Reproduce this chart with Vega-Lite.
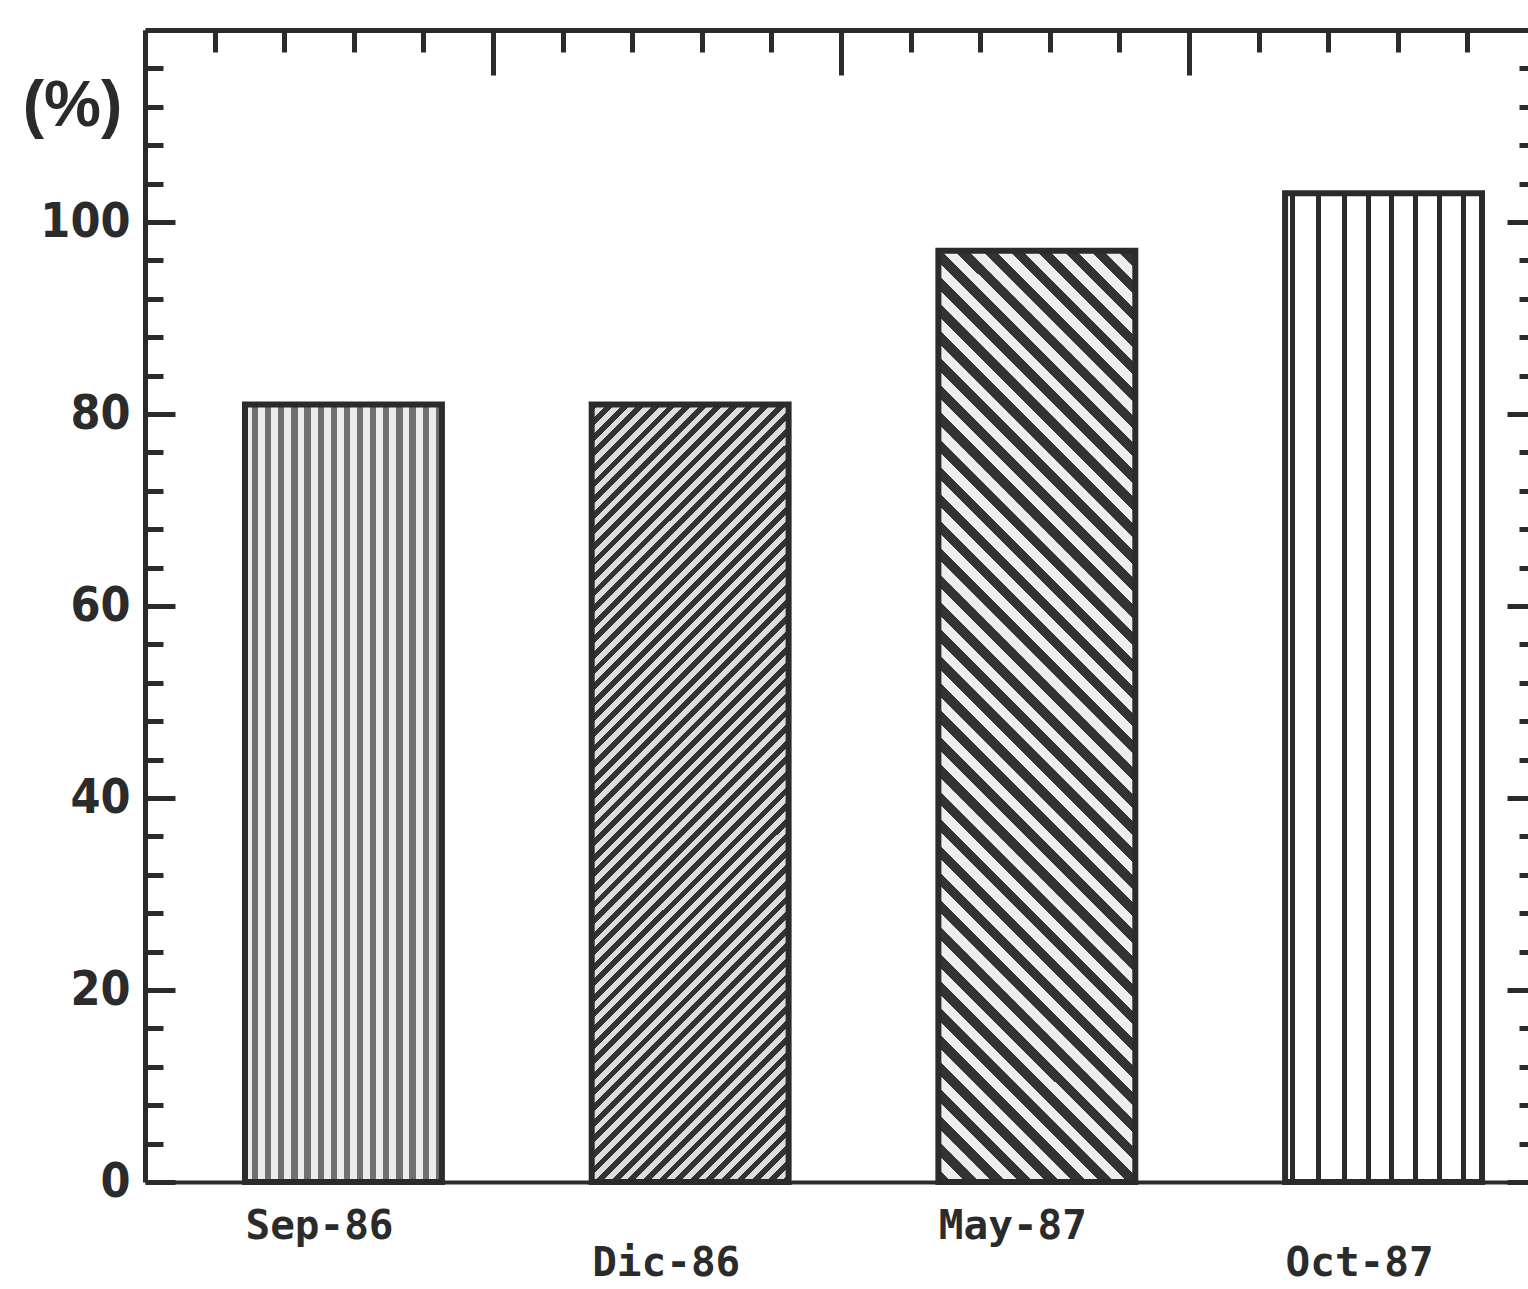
{
  "$schema": "https://vega.github.io/schema/vega-lite/v6.json",
  "usermeta": {"embedOptions": {"actions": false}},
  "autosize": {"type": "none"},
  "padding": {"left": 145, "top": 30, "right": 0, "bottom": 107},
  "width": 1383,
  "height": 1152,
  "background": "#ffffff",
  "config": {"view": {"stroke": null}},
  "data": {"values": [
    {"month": "Sep-86", "value": 81},
    {"month": "Dic-86", "value": 81},
    {"month": "May-87", "value": 97},
    {"month": "Oct-87", "value": 103}
  ]},
  "resolve": {"scale": {"x": "independent"}, "axis": {"x": "independent", "y": "independent"}},
  "layer": [
    {
      "mark": {"type": "bar", "stroke": "#2b2b2b", "strokeWidth": 6},
      "encoding": {
        "x": {
          "field": "month", "type": "nominal",
          "sort": ["Sep-86", "Dic-86", "May-87", "Oct-87"],
          "scale": {"paddingInner": 0.432, "paddingOuter": 0.2105, "align": 0.685},
          "axis": {
            "orient": "bottom", "title": null, "domain": true, "domainColor": "#2b2b2b", "domainWidth": 4,
            "ticks": false, "tickSize": 0,
            "labelFont": "DejaVu Sans Mono", "labelFontWeight": "bold", "labelFontSize": 41, "labelColor": "#2b2b2b",
            "labelAlign": "left", "labelBaseline": "top", "labelOffset": -98, "labelAngle": 0,
            "labelPadding": {"condition": {"test": "datum.value === 'Dic-86' || datum.value === 'Oct-87'", "value": 61}, "value": 24},
            "labelOverlap": false, "labelBound": false, "labelLimit": 400, "grid": false
          }
        },
        "y": {
          "field": "value", "type": "quantitative",
          "scale": {"domain": [0, 120], "nice": false, "zero": true},
          "axis": {
            "orient": "left", "title": "(%)", "titleAngle": 0, "titleX": -73, "titleY": 76,
            "titleAlign": "center", "titleBaseline": "middle", "titleFont": "Liberation Sans", "titleFontWeight": "bold",
            "titleFontSize": 64, "titleColor": "#2b2b2b",
            "values": [0,4,8,12,16,20,24,28,32,36,40,44,48,52,56,60,64,68,72,76,80,84,88,92,96,100,104,108,112,116],
            "labelExpr": "datum.value % 20 === 0 && datum.value <= 100 ? datum.label : ''",
            "labelFont": "Liberation Sans Narrow, DejaVu Sans Condensed", "labelFontWeight": "bold", "labelFontSize": 48,
            "labelColor": "#2b2b2b", "labelPadding": 45, "labelOverlap": false, "labelBound": false, "labelFlush": false,
            "tickSize": {"condition": {"test": "datum.value % 20 === 0", "value": -30}, "value": -18},
            "tickWidth": 5, "tickColor": "#2b2b2b", "domainWidth": 5, "domainColor": "#2b2b2b", "grid": false
          }
        },
        "fill": {
          "condition": [
            {"test": "datum.month === 'Sep-86'", "value": {"gradient": "linear", "x1": 0, "y1": 0, "x2": 1, "y2": 0, "stops": [{"offset":0,"color":"#ececec"},{"offset":0.035,"color":"#ececec"},{"offset":0.035,"color":"#707070"},{"offset":0.0667,"color":"#707070"},{"offset":0.0667,"color":"#ececec"},{"offset":0.1017,"color":"#ececec"},{"offset":0.1017,"color":"#707070"},{"offset":0.1333,"color":"#707070"},{"offset":0.1333,"color":"#ececec"},{"offset":0.1683,"color":"#ececec"},{"offset":0.1683,"color":"#707070"},{"offset":0.2,"color":"#707070"},{"offset":0.2,"color":"#ececec"},{"offset":0.235,"color":"#ececec"},{"offset":0.235,"color":"#707070"},{"offset":0.2667,"color":"#707070"},{"offset":0.2667,"color":"#ececec"},{"offset":0.3017,"color":"#ececec"},{"offset":0.3017,"color":"#707070"},{"offset":0.3333,"color":"#707070"},{"offset":0.3333,"color":"#ececec"},{"offset":0.3683,"color":"#ececec"},{"offset":0.3683,"color":"#707070"},{"offset":0.4,"color":"#707070"},{"offset":0.4,"color":"#ececec"},{"offset":0.435,"color":"#ececec"},{"offset":0.435,"color":"#707070"},{"offset":0.4667,"color":"#707070"},{"offset":0.4667,"color":"#ececec"},{"offset":0.5017,"color":"#ececec"},{"offset":0.5017,"color":"#707070"},{"offset":0.5333,"color":"#707070"},{"offset":0.5333,"color":"#ececec"},{"offset":0.5683,"color":"#ececec"},{"offset":0.5683,"color":"#707070"},{"offset":0.6,"color":"#707070"},{"offset":0.6,"color":"#ececec"},{"offset":0.635,"color":"#ececec"},{"offset":0.635,"color":"#707070"},{"offset":0.6667,"color":"#707070"},{"offset":0.6667,"color":"#ececec"},{"offset":0.7017,"color":"#ececec"},{"offset":0.7017,"color":"#707070"},{"offset":0.7333,"color":"#707070"},{"offset":0.7333,"color":"#ececec"},{"offset":0.7683,"color":"#ececec"},{"offset":0.7683,"color":"#707070"},{"offset":0.8,"color":"#707070"},{"offset":0.8,"color":"#ececec"},{"offset":0.835,"color":"#ececec"},{"offset":0.835,"color":"#707070"},{"offset":0.8667,"color":"#707070"},{"offset":0.8667,"color":"#ececec"},{"offset":0.9017,"color":"#ececec"},{"offset":0.9017,"color":"#707070"},{"offset":0.9333,"color":"#707070"},{"offset":0.9333,"color":"#ececec"},{"offset":0.9683,"color":"#ececec"},{"offset":0.9683,"color":"#707070"},{"offset":1,"color":"#707070"}]}},
            {"test": "datum.month === 'Dic-86'", "value": {"gradient": "linear", "x1": 0, "y1": 0, "x2": 0.2982, "y2": 1.1777, "stops": [{"offset":0,"color":"#333"},{"offset":0.008,"color":"#333"},{"offset":0.008,"color":"#ddd"},{"offset":0.016,"color":"#ddd"},{"offset":0.016,"color":"#333"},{"offset":0.024,"color":"#333"},{"offset":0.024,"color":"#ddd"},{"offset":0.032,"color":"#ddd"},{"offset":0.032,"color":"#333"},{"offset":0.04,"color":"#333"},{"offset":0.04,"color":"#ddd"},{"offset":0.048,"color":"#ddd"},{"offset":0.048,"color":"#333"},{"offset":0.056,"color":"#333"},{"offset":0.056,"color":"#ddd"},{"offset":0.064,"color":"#ddd"},{"offset":0.064,"color":"#333"},{"offset":0.072,"color":"#333"},{"offset":0.072,"color":"#ddd"},{"offset":0.08,"color":"#ddd"},{"offset":0.08,"color":"#333"},{"offset":0.088,"color":"#333"},{"offset":0.088,"color":"#ddd"},{"offset":0.096,"color":"#ddd"},{"offset":0.096,"color":"#333"},{"offset":0.104,"color":"#333"},{"offset":0.104,"color":"#ddd"},{"offset":0.112,"color":"#ddd"},{"offset":0.112,"color":"#333"},{"offset":0.12,"color":"#333"},{"offset":0.12,"color":"#ddd"},{"offset":0.128,"color":"#ddd"},{"offset":0.128,"color":"#333"},{"offset":0.136,"color":"#333"},{"offset":0.136,"color":"#ddd"},{"offset":0.144,"color":"#ddd"},{"offset":0.144,"color":"#333"},{"offset":0.152,"color":"#333"},{"offset":0.152,"color":"#ddd"},{"offset":0.16,"color":"#ddd"},{"offset":0.16,"color":"#333"},{"offset":0.168,"color":"#333"},{"offset":0.168,"color":"#ddd"},{"offset":0.176,"color":"#ddd"},{"offset":0.176,"color":"#333"},{"offset":0.184,"color":"#333"},{"offset":0.184,"color":"#ddd"},{"offset":0.192,"color":"#ddd"},{"offset":0.192,"color":"#333"},{"offset":0.2,"color":"#333"},{"offset":0.2,"color":"#ddd"},{"offset":0.208,"color":"#ddd"},{"offset":0.208,"color":"#333"},{"offset":0.216,"color":"#333"},{"offset":0.216,"color":"#ddd"},{"offset":0.224,"color":"#ddd"},{"offset":0.224,"color":"#333"},{"offset":0.232,"color":"#333"},{"offset":0.232,"color":"#ddd"},{"offset":0.24,"color":"#ddd"},{"offset":0.24,"color":"#333"},{"offset":0.248,"color":"#333"},{"offset":0.248,"color":"#ddd"},{"offset":0.256,"color":"#ddd"},{"offset":0.256,"color":"#333"},{"offset":0.264,"color":"#333"},{"offset":0.264,"color":"#ddd"},{"offset":0.272,"color":"#ddd"},{"offset":0.272,"color":"#333"},{"offset":0.28,"color":"#333"},{"offset":0.28,"color":"#ddd"},{"offset":0.288,"color":"#ddd"},{"offset":0.288,"color":"#333"},{"offset":0.296,"color":"#333"},{"offset":0.296,"color":"#ddd"},{"offset":0.304,"color":"#ddd"},{"offset":0.304,"color":"#333"},{"offset":0.312,"color":"#333"},{"offset":0.312,"color":"#ddd"},{"offset":0.32,"color":"#ddd"},{"offset":0.32,"color":"#333"},{"offset":0.328,"color":"#333"},{"offset":0.328,"color":"#ddd"},{"offset":0.336,"color":"#ddd"},{"offset":0.336,"color":"#333"},{"offset":0.344,"color":"#333"},{"offset":0.344,"color":"#ddd"},{"offset":0.352,"color":"#ddd"},{"offset":0.352,"color":"#333"},{"offset":0.36,"color":"#333"},{"offset":0.36,"color":"#ddd"},{"offset":0.368,"color":"#ddd"},{"offset":0.368,"color":"#333"},{"offset":0.376,"color":"#333"},{"offset":0.376,"color":"#ddd"},{"offset":0.384,"color":"#ddd"},{"offset":0.384,"color":"#333"},{"offset":0.392,"color":"#333"},{"offset":0.392,"color":"#ddd"},{"offset":0.4,"color":"#ddd"},{"offset":0.4,"color":"#333"},{"offset":0.408,"color":"#333"},{"offset":0.408,"color":"#ddd"},{"offset":0.416,"color":"#ddd"},{"offset":0.416,"color":"#333"},{"offset":0.424,"color":"#333"},{"offset":0.424,"color":"#ddd"},{"offset":0.432,"color":"#ddd"},{"offset":0.432,"color":"#333"},{"offset":0.44,"color":"#333"},{"offset":0.44,"color":"#ddd"},{"offset":0.448,"color":"#ddd"},{"offset":0.448,"color":"#333"},{"offset":0.456,"color":"#333"},{"offset":0.456,"color":"#ddd"},{"offset":0.464,"color":"#ddd"},{"offset":0.464,"color":"#333"},{"offset":0.472,"color":"#333"},{"offset":0.472,"color":"#ddd"},{"offset":0.48,"color":"#ddd"},{"offset":0.48,"color":"#333"},{"offset":0.488,"color":"#333"},{"offset":0.488,"color":"#ddd"},{"offset":0.496,"color":"#ddd"},{"offset":0.496,"color":"#333"},{"offset":0.504,"color":"#333"},{"offset":0.504,"color":"#ddd"},{"offset":0.512,"color":"#ddd"},{"offset":0.512,"color":"#333"},{"offset":0.52,"color":"#333"},{"offset":0.52,"color":"#ddd"},{"offset":0.528,"color":"#ddd"},{"offset":0.528,"color":"#333"},{"offset":0.536,"color":"#333"},{"offset":0.536,"color":"#ddd"},{"offset":0.544,"color":"#ddd"},{"offset":0.544,"color":"#333"},{"offset":0.552,"color":"#333"},{"offset":0.552,"color":"#ddd"},{"offset":0.56,"color":"#ddd"},{"offset":0.56,"color":"#333"},{"offset":0.568,"color":"#333"},{"offset":0.568,"color":"#ddd"},{"offset":0.576,"color":"#ddd"},{"offset":0.576,"color":"#333"},{"offset":0.584,"color":"#333"},{"offset":0.584,"color":"#ddd"},{"offset":0.592,"color":"#ddd"},{"offset":0.592,"color":"#333"},{"offset":0.6,"color":"#333"},{"offset":0.6,"color":"#ddd"},{"offset":0.608,"color":"#ddd"},{"offset":0.608,"color":"#333"},{"offset":0.616,"color":"#333"},{"offset":0.616,"color":"#ddd"},{"offset":0.624,"color":"#ddd"},{"offset":0.624,"color":"#333"},{"offset":0.632,"color":"#333"},{"offset":0.632,"color":"#ddd"},{"offset":0.64,"color":"#ddd"},{"offset":0.64,"color":"#333"},{"offset":0.648,"color":"#333"},{"offset":0.648,"color":"#ddd"},{"offset":0.656,"color":"#ddd"},{"offset":0.656,"color":"#333"},{"offset":0.664,"color":"#333"},{"offset":0.664,"color":"#ddd"},{"offset":0.672,"color":"#ddd"},{"offset":0.672,"color":"#333"},{"offset":0.68,"color":"#333"},{"offset":0.68,"color":"#ddd"},{"offset":0.688,"color":"#ddd"},{"offset":0.688,"color":"#333"},{"offset":0.696,"color":"#333"},{"offset":0.696,"color":"#ddd"},{"offset":0.704,"color":"#ddd"},{"offset":0.704,"color":"#333"},{"offset":0.712,"color":"#333"},{"offset":0.712,"color":"#ddd"},{"offset":0.72,"color":"#ddd"},{"offset":0.72,"color":"#333"},{"offset":0.728,"color":"#333"},{"offset":0.728,"color":"#ddd"},{"offset":0.736,"color":"#ddd"},{"offset":0.736,"color":"#333"},{"offset":0.744,"color":"#333"},{"offset":0.744,"color":"#ddd"},{"offset":0.752,"color":"#ddd"},{"offset":0.752,"color":"#333"},{"offset":0.76,"color":"#333"},{"offset":0.76,"color":"#ddd"},{"offset":0.768,"color":"#ddd"},{"offset":0.768,"color":"#333"},{"offset":0.776,"color":"#333"},{"offset":0.776,"color":"#ddd"},{"offset":0.784,"color":"#ddd"},{"offset":0.784,"color":"#333"},{"offset":0.792,"color":"#333"},{"offset":0.792,"color":"#ddd"},{"offset":0.8,"color":"#ddd"},{"offset":0.8,"color":"#333"},{"offset":0.808,"color":"#333"},{"offset":0.808,"color":"#ddd"},{"offset":0.816,"color":"#ddd"},{"offset":0.816,"color":"#333"},{"offset":0.824,"color":"#333"},{"offset":0.824,"color":"#ddd"},{"offset":0.832,"color":"#ddd"},{"offset":0.832,"color":"#333"},{"offset":0.84,"color":"#333"},{"offset":0.84,"color":"#ddd"},{"offset":0.848,"color":"#ddd"},{"offset":0.848,"color":"#333"},{"offset":0.856,"color":"#333"},{"offset":0.856,"color":"#ddd"},{"offset":0.864,"color":"#ddd"},{"offset":0.864,"color":"#333"},{"offset":0.872,"color":"#333"},{"offset":0.872,"color":"#ddd"},{"offset":0.88,"color":"#ddd"},{"offset":0.88,"color":"#333"},{"offset":0.888,"color":"#333"},{"offset":0.888,"color":"#ddd"},{"offset":0.896,"color":"#ddd"},{"offset":0.896,"color":"#333"},{"offset":0.904,"color":"#333"},{"offset":0.904,"color":"#ddd"},{"offset":0.912,"color":"#ddd"},{"offset":0.912,"color":"#333"},{"offset":0.92,"color":"#333"},{"offset":0.92,"color":"#ddd"},{"offset":0.928,"color":"#ddd"},{"offset":0.928,"color":"#333"},{"offset":0.936,"color":"#333"},{"offset":0.936,"color":"#ddd"},{"offset":0.944,"color":"#ddd"},{"offset":0.944,"color":"#333"},{"offset":0.952,"color":"#333"},{"offset":0.952,"color":"#ddd"},{"offset":0.96,"color":"#ddd"},{"offset":0.96,"color":"#333"},{"offset":0.968,"color":"#333"},{"offset":0.968,"color":"#ddd"},{"offset":0.976,"color":"#ddd"},{"offset":0.976,"color":"#333"},{"offset":0.984,"color":"#333"},{"offset":0.984,"color":"#ddd"},{"offset":0.992,"color":"#ddd"},{"offset":0.992,"color":"#333"},{"offset":1,"color":"#333"}]}},
            {"test": "datum.month === 'May-87'", "value": {"gradient": "linear", "x1": 0, "y1": 1, "x2": 0.2452, "y2": -0.1596, "stops": [{"offset":0,"color":"#333"},{"offset":0.012,"color":"#333"},{"offset":0.012,"color":"#eee"},{"offset":0.024,"color":"#eee"},{"offset":0.024,"color":"#333"},{"offset":0.036,"color":"#333"},{"offset":0.036,"color":"#eee"},{"offset":0.048,"color":"#eee"},{"offset":0.048,"color":"#333"},{"offset":0.06,"color":"#333"},{"offset":0.06,"color":"#eee"},{"offset":0.072,"color":"#eee"},{"offset":0.072,"color":"#333"},{"offset":0.084,"color":"#333"},{"offset":0.084,"color":"#eee"},{"offset":0.096,"color":"#eee"},{"offset":0.096,"color":"#333"},{"offset":0.108,"color":"#333"},{"offset":0.108,"color":"#eee"},{"offset":0.12,"color":"#eee"},{"offset":0.12,"color":"#333"},{"offset":0.132,"color":"#333"},{"offset":0.132,"color":"#eee"},{"offset":0.144,"color":"#eee"},{"offset":0.144,"color":"#333"},{"offset":0.156,"color":"#333"},{"offset":0.156,"color":"#eee"},{"offset":0.168,"color":"#eee"},{"offset":0.168,"color":"#333"},{"offset":0.18,"color":"#333"},{"offset":0.18,"color":"#eee"},{"offset":0.192,"color":"#eee"},{"offset":0.192,"color":"#333"},{"offset":0.204,"color":"#333"},{"offset":0.204,"color":"#eee"},{"offset":0.216,"color":"#eee"},{"offset":0.216,"color":"#333"},{"offset":0.228,"color":"#333"},{"offset":0.228,"color":"#eee"},{"offset":0.24,"color":"#eee"},{"offset":0.24,"color":"#333"},{"offset":0.252,"color":"#333"},{"offset":0.252,"color":"#eee"},{"offset":0.264,"color":"#eee"},{"offset":0.264,"color":"#333"},{"offset":0.276,"color":"#333"},{"offset":0.276,"color":"#eee"},{"offset":0.288,"color":"#eee"},{"offset":0.288,"color":"#333"},{"offset":0.3,"color":"#333"},{"offset":0.3,"color":"#eee"},{"offset":0.312,"color":"#eee"},{"offset":0.312,"color":"#333"},{"offset":0.324,"color":"#333"},{"offset":0.324,"color":"#eee"},{"offset":0.336,"color":"#eee"},{"offset":0.336,"color":"#333"},{"offset":0.348,"color":"#333"},{"offset":0.348,"color":"#eee"},{"offset":0.36,"color":"#eee"},{"offset":0.36,"color":"#333"},{"offset":0.372,"color":"#333"},{"offset":0.372,"color":"#eee"},{"offset":0.384,"color":"#eee"},{"offset":0.384,"color":"#333"},{"offset":0.396,"color":"#333"},{"offset":0.396,"color":"#eee"},{"offset":0.408,"color":"#eee"},{"offset":0.408,"color":"#333"},{"offset":0.42,"color":"#333"},{"offset":0.42,"color":"#eee"},{"offset":0.432,"color":"#eee"},{"offset":0.432,"color":"#333"},{"offset":0.444,"color":"#333"},{"offset":0.444,"color":"#eee"},{"offset":0.456,"color":"#eee"},{"offset":0.456,"color":"#333"},{"offset":0.468,"color":"#333"},{"offset":0.468,"color":"#eee"},{"offset":0.48,"color":"#eee"},{"offset":0.48,"color":"#333"},{"offset":0.492,"color":"#333"},{"offset":0.492,"color":"#eee"},{"offset":0.504,"color":"#eee"},{"offset":0.504,"color":"#333"},{"offset":0.516,"color":"#333"},{"offset":0.516,"color":"#eee"},{"offset":0.528,"color":"#eee"},{"offset":0.528,"color":"#333"},{"offset":0.54,"color":"#333"},{"offset":0.54,"color":"#eee"},{"offset":0.552,"color":"#eee"},{"offset":0.552,"color":"#333"},{"offset":0.564,"color":"#333"},{"offset":0.564,"color":"#eee"},{"offset":0.576,"color":"#eee"},{"offset":0.576,"color":"#333"},{"offset":0.588,"color":"#333"},{"offset":0.588,"color":"#eee"},{"offset":0.6,"color":"#eee"},{"offset":0.6,"color":"#333"},{"offset":0.612,"color":"#333"},{"offset":0.612,"color":"#eee"},{"offset":0.624,"color":"#eee"},{"offset":0.624,"color":"#333"},{"offset":0.636,"color":"#333"},{"offset":0.636,"color":"#eee"},{"offset":0.648,"color":"#eee"},{"offset":0.648,"color":"#333"},{"offset":0.66,"color":"#333"},{"offset":0.66,"color":"#eee"},{"offset":0.672,"color":"#eee"},{"offset":0.672,"color":"#333"},{"offset":0.684,"color":"#333"},{"offset":0.684,"color":"#eee"},{"offset":0.696,"color":"#eee"},{"offset":0.696,"color":"#333"},{"offset":0.708,"color":"#333"},{"offset":0.708,"color":"#eee"},{"offset":0.72,"color":"#eee"},{"offset":0.72,"color":"#333"},{"offset":0.732,"color":"#333"},{"offset":0.732,"color":"#eee"},{"offset":0.744,"color":"#eee"},{"offset":0.744,"color":"#333"},{"offset":0.756,"color":"#333"},{"offset":0.756,"color":"#eee"},{"offset":0.768,"color":"#eee"},{"offset":0.768,"color":"#333"},{"offset":0.78,"color":"#333"},{"offset":0.78,"color":"#eee"},{"offset":0.792,"color":"#eee"},{"offset":0.792,"color":"#333"},{"offset":0.804,"color":"#333"},{"offset":0.804,"color":"#eee"},{"offset":0.816,"color":"#eee"},{"offset":0.816,"color":"#333"},{"offset":0.828,"color":"#333"},{"offset":0.828,"color":"#eee"},{"offset":0.84,"color":"#eee"},{"offset":0.84,"color":"#333"},{"offset":0.852,"color":"#333"},{"offset":0.852,"color":"#eee"},{"offset":0.864,"color":"#eee"},{"offset":0.864,"color":"#333"},{"offset":0.876,"color":"#333"},{"offset":0.876,"color":"#eee"},{"offset":0.888,"color":"#eee"},{"offset":0.888,"color":"#333"},{"offset":0.9,"color":"#333"},{"offset":0.9,"color":"#eee"},{"offset":0.912,"color":"#eee"},{"offset":0.912,"color":"#333"},{"offset":0.924,"color":"#333"},{"offset":0.924,"color":"#eee"},{"offset":0.936,"color":"#eee"},{"offset":0.936,"color":"#333"},{"offset":0.948,"color":"#333"},{"offset":0.948,"color":"#eee"},{"offset":0.96,"color":"#eee"},{"offset":0.96,"color":"#333"},{"offset":0.972,"color":"#333"},{"offset":0.972,"color":"#eee"},{"offset":0.984,"color":"#eee"},{"offset":0.984,"color":"#333"},{"offset":0.996,"color":"#333"},{"offset":0.996,"color":"#eee"},{"offset":1,"color":"#eee"}]}}
          ],
          "value": {"gradient": "linear", "x1": 0, "y1": 0, "x2": 1, "y2": 0, "stops": [{"offset":0,"color":"#fff"},{"offset":0.026,"color":"#fff"},{"offset":0.026,"color":"#2b2b2b"},{"offset":0.052,"color":"#2b2b2b"},{"offset":0.052,"color":"#fff"},{"offset":0.158,"color":"#fff"},{"offset":0.158,"color":"#2b2b2b"},{"offset":0.184,"color":"#2b2b2b"},{"offset":0.184,"color":"#fff"},{"offset":0.289,"color":"#fff"},{"offset":0.289,"color":"#2b2b2b"},{"offset":0.315,"color":"#2b2b2b"},{"offset":0.315,"color":"#fff"},{"offset":0.411,"color":"#fff"},{"offset":0.411,"color":"#2b2b2b"},{"offset":0.437,"color":"#2b2b2b"},{"offset":0.437,"color":"#fff"},{"offset":0.528,"color":"#fff"},{"offset":0.528,"color":"#2b2b2b"},{"offset":0.554,"color":"#2b2b2b"},{"offset":0.554,"color":"#fff"},{"offset":0.65,"color":"#fff"},{"offset":0.65,"color":"#2b2b2b"},{"offset":0.676,"color":"#2b2b2b"},{"offset":0.676,"color":"#fff"},{"offset":0.772,"color":"#fff"},{"offset":0.772,"color":"#2b2b2b"},{"offset":0.798,"color":"#2b2b2b"},{"offset":0.798,"color":"#fff"},{"offset":0.894,"color":"#fff"},{"offset":0.894,"color":"#2b2b2b"},{"offset":0.92,"color":"#2b2b2b"},{"offset":0.92,"color":"#fff"},{"offset":1,"color":"#fff"}]}
        }
      }
    },
    {
      "mark": {"type": "point", "opacity": 0},
      "encoding": {
        "x": {
          "datum": 0, "type": "quantitative",
          "scale": {"domain": [0, 20], "range": [0, 1392], "nice": false, "zero": false},
          "axis": {
            "orient": "top", "title": null, "labels": false, "grid": false,
            "values": [0,1,2,3,4,5,6,7,8,9,10,11,12,13,14,15,16,17,18,19,20],
            "tickSize": {"condition": {"test": "datum.value % 5 === 0", "value": -45}, "value": -22},
            "tickWidth": 5, "tickColor": "#2b2b2b", "domainWidth": 5, "domainColor": "#2b2b2b"
          }
        },
        "y": {
          "datum": 0, "type": "quantitative",
          "axis": {
            "orient": "right", "title": null, "labels": false, "grid": false, "domain": false,
            "values": [0,4,8,12,16,20,24,28,32,36,40,44,48,52,56,60,64,68,72,76,80,84,88,92,96,100,104,108,112,116],
            "tickSize": {"condition": {"test": "datum.value % 20 === 0", "value": -21}, "value": -9},
            "tickWidth": 5, "tickColor": "#2b2b2b"
          }
        }
      }
    }
  ]
}
